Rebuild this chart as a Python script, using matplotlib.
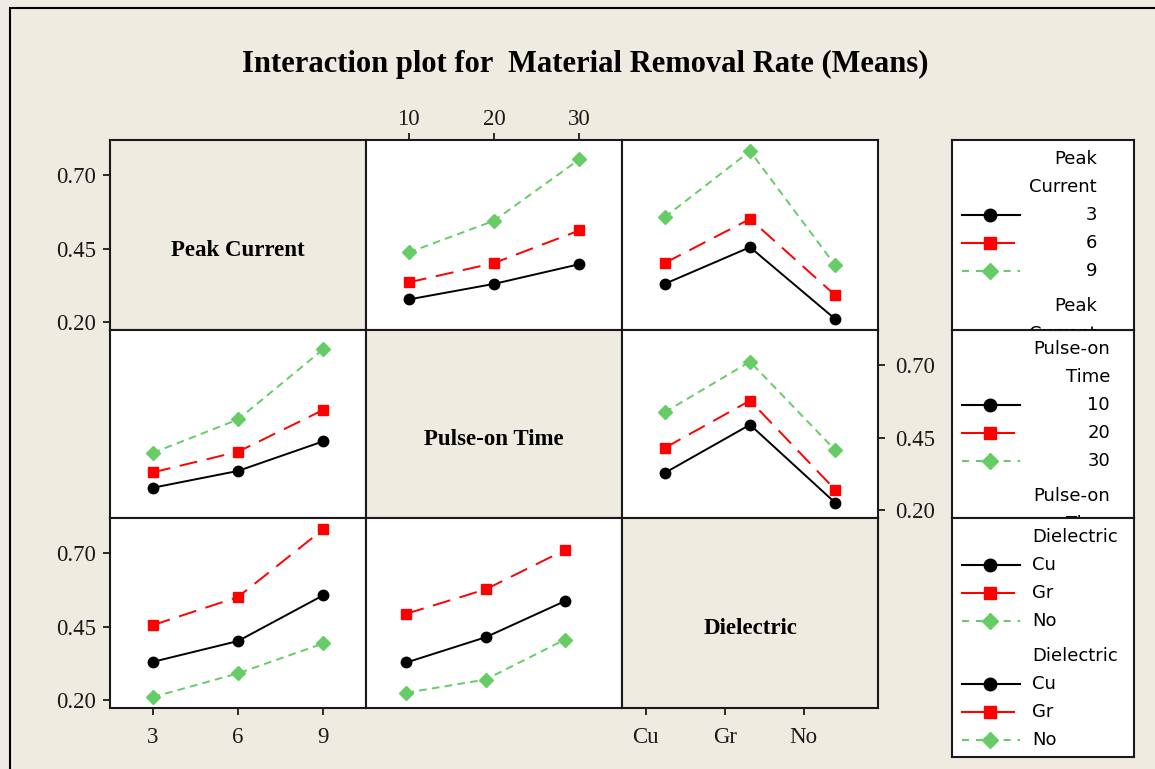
import matplotlib.pyplot as plt
import numpy as np
from matplotlib.patches import Rectangle
from matplotlib.lines import Line2D

# ---------------------------------------------------------------
# data: interaction means
# ---------------------------------------------------------------
factors = ["Peak Current", "Pulse-on Time", "Dielectric"]
levels = [["3", "6", "9"], ["10", "20", "30"], ["Cu", "Gr", "No"]]

# rows = peak current 3/6/9, cols = pulse-on 10/20/30
pc_pulse = np.array([[0.277, 0.330, 0.397],
                     [0.335, 0.401, 0.512],
                     [0.437, 0.545, 0.754]])
# rows = peak current 3/6/9, cols = Cu/Gr/No
pc_diel = np.array([[0.330, 0.455, 0.210],
                    [0.401, 0.551, 0.291],
                    [0.557, 0.782, 0.393]])
# rows = pulse-on 10/20/30, cols = Cu/Gr/No
pulse_diel = np.array([[0.328, 0.494, 0.225],
                       [0.414, 0.577, 0.270],
                       [0.537, 0.711, 0.406]])

yticks = [0.20, 0.45, 0.70]

means = {
    (0, 1): pc_pulse, (1, 0): pc_pulse.T,
    (0, 2): pc_diel, (2, 0): pc_diel.T,
    (1, 2): pulse_diel, (2, 1): pulse_diel.T,
}

# ---------------------------------------------------------------
# styles / layout
# ---------------------------------------------------------------
W, H = 1155, 769
BG = "#EFEBE1"
GREEN = "#66CC66"
styles = [
    dict(color="black", ls="-", marker="o", ms=7.5, mec="black"),
    dict(color="red", ls=(0, (13, 7)), marker="s", ms=7, mec="red"),
    dict(color=GREEN, ls=(0, (5.5, 3.8)), marker="D", ms=7, mec=GREEN),
]
legend_ls = ["-", "-", (0, (5, 5))]

plt.rcParams["font.family"] = ["Liberation Serif", "DejaVu Serif"]
plt.rcParams["lines.scale_dashes"] = False

fig = plt.figure(figsize=(W / 100, H / 100), dpi=100, facecolor=BG)


def px_axes(x0, y0, x1, y1):
    return fig.add_axes([x0 / W, 1 - y1 / H, (x1 - x0) / W, (y1 - y0) / H])


# outer frame
fig.patches.append(Rectangle((10 / W, -0.1), 1.2, 1 - 8 / H + 0.1,
                             transform=fig.transFigure, fill=False,
                             ec="black", lw=1.5))

fig.text(585 / W, 1 - 64 / H,
         "Interaction plot for  Material Removal Rate (Means)",
         ha="center", va="center", fontsize=22, fontweight="bold")

cols = [110, 366, 622, 878]
rows = [140, 330, 518, 708]

for r in range(3):
    for c in range(3):
        ax = px_axes(cols[c], rows[r], cols[c + 1], rows[r + 1])
        ax.set_xlim(-0.5, 2.5)
        ax.set_ylim(0.173, 0.82)
        for s in ax.spines.values():
            s.set_linewidth(1.5)
            s.set_color("#1a1a1a")
        ax.tick_params(length=5, width=1.3, labelsize=16.5, color="#1a1a1a",
                       labelcolor="#1a1a1a")
        ax.set_xticks([])
        ax.set_yticks([])

        if r == c:
            ax.set_facecolor(BG)
            ax.text(0.5, 0.42, factors[r], transform=ax.transAxes,
                    ha="center", va="center", fontsize=16.5,
                    fontweight="bold")
        else:
            data = means[(r, c)]
            x = np.arange(3)
            for k in range(3):
                ax.plot(x, data[k], lw=1.4, clip_on=False, **styles[k])

        if r == 2 and c == 1:
            ax.set_xlim(-0.51, 2.72)
        if r == 2 and c == 2:
            ax.set_xlim(-0.30, 2.94)

        # x tick labels
        if (r == 2 and c in (0, 2)):
            ax.set_xticks(range(3), levels[c])
            ax.tick_params(axis="x", pad=9)
        if r == 0 and c == 1:
            ax.xaxis.tick_top()
            ax.set_xticks(range(3), levels[c])
            ax.tick_params(axis="x", pad=2)
        # y tick labels
        if c == 0 and r in (0, 2):
            ax.set_yticks(yticks, [f"{v:.2f}" for v in yticks])
            ax.tick_params(axis="y", pad=5)
        if c == 2 and r == 1:
            ax.yaxis.tick_right()
            ax.set_yticks(yticks, [f"{v:.2f}" for v in yticks])
            ax.tick_params(axis="y", pad=7)

# ---------------------------------------------------------------
# legends (one box per factor)
# ---------------------------------------------------------------
LX0, LX1 = 952, 1134
boxes = [
    dict(y0=140, y1=330, title=["Peak", "Current"], f=0, tx=1097, ha="right",
         repeat=False),
    dict(y0=330, y1=518, title=["Pulse-on", "Time"], f=1, tx=1110, ha="right",
         repeat=False),
    dict(y0=518, y1=757, title=["Dielectric"], f=2, tx=1032, ha="left",
         repeat=True),
]
STEP = 28

for b in boxes:
    lax = px_axes(LX0, b["y0"], LX1, b["y1"])
    lax.set_xlim(LX0, LX1)
    lax.set_ylim(b["y1"], b["y0"])
    lax.set_xticks([])
    lax.set_yticks([])
    for s in lax.spines.values():
        s.set_linewidth(1.5)
        s.set_color("#1a1a1a")
    lax.set_zorder(2 if b["f"] != 1 else 1)

    y = b["y0"] + 19
    n_blocks = 2 if b["repeat"] else 1
    for blk in range(n_blocks):
        for t in b["title"]:
            lax.text(b["tx"], y, t, ha=b["ha"], va="center", fontsize=13,
                     family="DejaVu Sans", clip_on=True)
            y += STEP
        for k, lev in enumerate(levels[b["f"]]):
            st = styles[k]
            x_end = 1014 if k == 1 else 1020
            lax.add_line(Line2D([962, x_end], [y, y], color=st["color"],
                                ls=legend_ls[k], lw=1.5))
            lax.plot([990], [y], marker=st["marker"], ms=st["ms"] + 1.5,
                     color=st["color"], ls="none")
            lax.text(b["tx"], y, lev, ha=b["ha"], va="center", fontsize=13,
                     family="DejaVu Sans", clip_on=True)
            y += STEP
        y += 7
    if not b["repeat"]:
        for t in b["title"]:
            lax.text(b["tx"], y, t, ha=b["ha"], va="center", fontsize=13,
                     family="DejaVu Sans", clip_on=True)
            y += STEP

fig.savefig("out.png", dpi=100, facecolor=BG)
